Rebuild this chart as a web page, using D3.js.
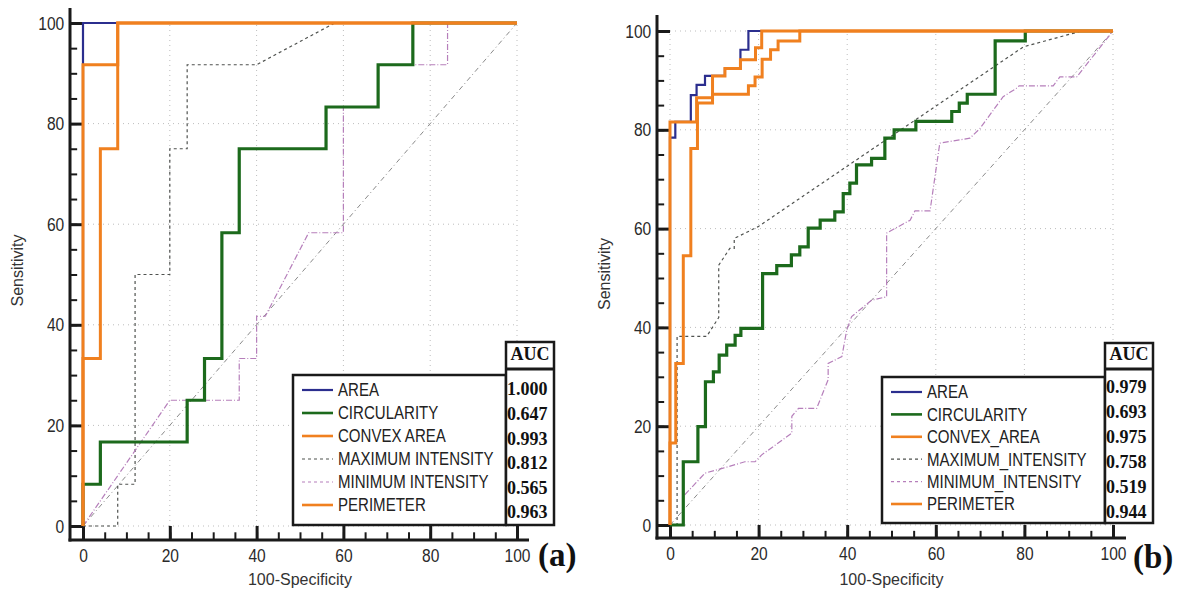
<!DOCTYPE html>
<html>
<head>
<meta charset="utf-8">
<script src="https://cdn.jsdelivr.net/npm/d3@7"></script>
<style>
  body { margin: 0; background: #fff; }
  svg { display: block; }
</style>
</head>
<body>
<svg id="chart" width="1190" height="594"></svg>
<script>
// ---- data ----
const namesA = ["AREA", "CIRCULARITY", "CONVEX AREA", "MAXIMUM INTENSITY", "MINIMUM INTENSITY", "PERIMETER"]
const namesB = ["AREA", "CIRCULARITY", "CONVEX_AREA", "MAXIMUM_INTENSITY", "MINIMUM_INTENSITY", "PERIMETER"]
const aucA = ["1.000", "0.647", "0.993", "0.812", "0.565", "0.963"]
const aucB = ["0.979", "0.693", "0.975", "0.758", "0.519", "0.944"]
const tickValues = [0, 20, 40, 60, 80, 100]
const minorTickValues = [0, 5, 10, 15, 20, 25, 30, 35, 40, 45, 50, 55, 60, 65, 70, 75, 80, 85, 90, 95, 100]
const chance = [[0, 0], [100, 100]]

// step curves: [100-specificity, sensitivity] breakpoints (drawn as step-after)
const areaA = [[0, 0], [0, 100], [100, 100]]
const circA = [[0, 0], [0, 8.3], [4, 16.7], [24, 25], [28, 33.3], [32, 58.3], [36, 75], [56, 83.3], [68, 91.7], [76, 100], [100, 100]]
const convexA = [[0, 0], [0, 91.7], [8, 100], [100, 100]]
const perimA = [[0, 0], [0, 33.3], [4, 75], [8, 100], [100, 100]]
// poly curves (drawn point to point)
const maxA = [[0, 0], [8, 0], [8, 8.3], [12, 8.3], [12, 50], [20, 50], [20, 75], [24, 75], [24, 91.7], [40, 91.7], [58, 100], [100, 100]]
const minA = [[0, 0], [20, 25], [36, 25], [36, 33.3], [40, 33.3], [40, 41.7], [42, 41.7], [52, 58.3], [60, 58.3], [60, 83.3], [68, 83.3], [68, 91.7], [84, 91.7], [84, 100], [100, 100]]

const areaB = [[0, 0], [0, 78.4], [1.2, 81.6], [4.7, 87], [6, 89.1], [7.9, 90.9], [12.4, 92.4], [15.9, 96.2], [17.7, 100], [100, 100]]
const circB = [[0, 0], [3, 12.8], [6.3, 19.9], [8, 29], [9.8, 31], [11.1, 34.4], [12.8, 36.4], [14.7, 38.4], [16, 39.8], [20.9, 50.9],
  [24.1, 52.5], [27.4, 54.7], [29.3, 56.3], [31.2, 60.1], [33.9, 61.7], [37.2, 63.4], [39.1, 67.1], [40.6, 69.2], [42.1, 72.9],
  [45.5, 74.2], [48.5, 78.3], [50.6, 80], [55.5, 81.7], [63.6, 83.7], [65.3, 85.4], [67.1, 87.2], [73.4, 98], [80.2, 100], [100, 100]]
const convexB = [[0, 0], [0, 81.6], [6, 86.5], [9.6, 90.9], [12.4, 92.4], [15.9, 94.2], [19.3, 96.6], [20.7, 100], [100, 100]]
const perimB = [[0, 0], [0, 16.6], [1.3, 32.7], [3, 54.5], [4.7, 76.2], [6.2, 85.4], [9.6, 87.2], [17.7, 88.9], [19.2, 90.7],
  [20.8, 94.3], [22.7, 96.2], [24.4, 98], [29.3, 100], [100, 100]]
const maxB = [[0, 0], [1.6, 0], [1.6, 38.2], [8.3, 38.2], [11, 42], [11, 52.6], [13.5, 56], [14.5, 56], [14.5, 58], [19.9, 60.4],
  [49.3, 78.3], [79.8, 96.8], [92.5, 99.9], [100, 100]]
const minB = [[0, 0], [3, 0], [3, 5.8], [7.9, 10.5], [12, 11.5], [16.9, 12.8], [19.2, 12.8], [20.7, 14.2], [27.5, 18.6], [27.5, 22],
  [29, 23.6], [33.1, 23.6], [35.7, 29.4], [35.7, 32.7], [38.8, 34.1], [39.9, 39.5], [41, 42.2], [45.5, 45.5], [48.9, 46.2],
  [48.9, 59.1], [54.2, 61.7], [55.3, 63.6], [58.7, 63.6], [60.9, 77.3], [67.7, 78.3], [70, 80.3], [73, 84], [75.2, 86.7],
  [78.2, 88.4], [78.8, 88.9], [86.5, 88.9], [88, 90.7], [91.8, 90.7], [100, 100]]

// ---- styles (same order as names) ----
const styles = [
  {color: "#2b2e8e", width: 2.2, dash: null},
  {color: "#1c6a1c", width: 3.2, dash: null},
  {color: "#f0801f", width: 3, dash: null},
  {color: "#4f524f", width: 1.2, dash: "3,3"},
  {color: "#b67fbb", width: 1.2, dash: "6,2,1,2"},
  {color: "#f0801f", width: 3, dash: null}
]
const drawOrder = [3, 4, 1, 0, 5, 2]
const sansFont = "'Liberation Sans', Arial, sans-serif"
const serifFont = "'Liberation Serif', 'Times New Roman', serif"

const svg = d3.select("#chart")

function drawPanel(p) {
  let x = d3.scaleLinear().domain([0, 100]).range(p.xRange),
      y = d3.scaleLinear().domain([0, 100]).range(p.yRange)
  const g = svg.append("g")

  // dotted grid
  g.append("g").selectAll("line").data(tickValues).join("line")
    .attr("x1", d => x(d)).attr("x2", d => x(d))
    .attr("y1", y(0)).attr("y2", y(100))
    .attr("stroke", "#bdbdbd").attr("stroke-dasharray", "1,4")
  g.append("g").selectAll("line").data(tickValues).join("line")
    .attr("y1", d => y(d)).attr("y2", d => y(d))
    .attr("x1", x(0)).attr("x2", x(100))
    .attr("stroke", "#bdbdbd").attr("stroke-dasharray", "1,4")

  // axes (ticks point into the plot)
  const inY = x(0) - p.axisX, inX = p.axisY - y(0)
  const yAxis = g.append("g").attr("transform", `translate(${p.axisX},0)`)
    .call(d3.axisLeft(y).tickValues(tickValues).tickSize(-inY).tickPadding(7))
  yAxis.append("g")
    .call(d3.axisLeft(y).tickValues(minorTickValues).tickSize(-inY * 0.55).tickFormat(""))
  const xAxis = g.append("g").attr("transform", `translate(0,${p.axisY})`)
    .call(d3.axisBottom(x).tickValues(tickValues).tickSize(-inX).tickPadding(9))
  xAxis.append("g")
    .call(d3.axisBottom(x).tickValues(minorTickValues).tickSize(-inX * 0.55).tickFormat(""))
  g.selectAll(".domain").remove()
  g.selectAll(".tick line").attr("stroke", "#1a1a1a").attr("stroke-width", 2)
  yAxis.selectAll(":scope > .tick line").attr("stroke-width", 3)
  xAxis.selectAll(":scope > .tick line").attr("stroke-width", 3)
  // labels in the picture are tall and narrow
  g.selectAll(".tick text").attr("font-family", sansFont).attr("font-size", 19).attr("fill", "#2a2a2a")
    .attr("transform", "scale(0.82,1)")
  g.append("line").attr("x1", p.axisX).attr("x2", p.axisX).attr("y1", p.yTop).attr("y2", p.axisY + 1.5)
    .attr("stroke", "#1a1a1a").attr("stroke-width", 3)
  g.append("line").attr("x1", p.axisX - 1.5).attr("x2", p.xEnd).attr("y1", p.axisY).attr("y2", p.axisY)
    .attr("stroke", "#1a1a1a").attr("stroke-width", 3)

  // axis titles
  g.append("text")
    .attr("transform", `translate(${p.yTitleX},${(y(0) + y(100)) / 2 - 4}) rotate(-90)`)
    .attr("text-anchor", "middle").attr("font-family", sansFont).attr("font-size", 16).attr("fill", "#333")
    .text("Sensitivity")
  g.append("text")
    .attr("x", (x(0) + x(100)) / 2).attr("y", 585)
    .attr("text-anchor", "middle").attr("font-family", sansFont).attr("font-size", 16).attr("fill", "#333")
    .text("100-Specificity")

  // curves
  const stepLine = d3.line().x(d => x(d[0])).y(d => y(d[1])).curve(d3.curveStepAfter)
  const polyLine = d3.line().x(d => x(d[0])).y(d => y(d[1]))
  g.append("path").attr("d", polyLine(chance)).attr("fill", "none")
    .attr("stroke", "#8a8a8a").attr("stroke-width", 1).attr("stroke-dasharray", "5,3,1,3")
  drawOrder.forEach(i => {
    const s = styles[i]
    const isPoly = i === 3 || i === 4
    g.append("path")
      .attr("d", (isPoly ? polyLine : stepLine)(p.curves[i]))
      .attr("fill", "none")
      .attr("stroke", s.color)
      .attr("stroke-width", s.width)
      .attr("stroke-dasharray", s.dash)
      .attr("stroke-linejoin", "miter")
  })

  // legend
  const L = p.legend
  const lg = g.append("g")
  lg.append("rect").attr("x", L.x).attr("y", L.y).attr("width", L.w).attr("height", L.h)
    .attr("fill", "#fff").attr("stroke", "#1a1a1a").attr("stroke-width", 2.5)
  const rows = lg.selectAll("g.row").data(p.names).join("g").attr("class", "row")
    .attr("transform", (d, i) => `translate(${L.x},${L.row0 + i * L.step})`)
  rows.append("line").attr("x1", 9).attr("x2", 40).attr("y1", 0).attr("y2", 0)
    .attr("stroke", (d, i) => styles[i].color)
    .attr("stroke-width", (d, i) => Math.min(styles[i].width, 2.6))
    .attr("stroke-dasharray", (d, i) => styles[i].dash ? "3,3" : null)
  rows.append("text").attr("transform", "translate(45,0) scale(0.86,1)").attr("dy", "0.36em")
    .attr("font-family", sansFont).attr("font-size", 17.5).attr("fill", "#222")
    .text(d => d)

  // AUC table
  const A = p.aucBox
  lg.append("rect").attr("x", A.x).attr("y", A.y).attr("width", A.w).attr("height", L.y + L.h - A.y)
    .attr("fill", "#fff").attr("stroke", "#1a1a1a").attr("stroke-width", 2.5)
  lg.append("line").attr("x1", A.x).attr("x2", A.x + A.w).attr("y1", A.sep).attr("y2", A.sep)
    .attr("stroke", "#1a1a1a").attr("stroke-width", 3)
  lg.append("text").attr("x", A.x + A.w / 2).attr("y", A.sep - 9)
    .attr("text-anchor", "middle").attr("font-family", serifFont).attr("font-weight", "bold")
    .attr("font-size", 18).attr("fill", "#111").text("AUC")
  lg.selectAll("text.auc").data(p.auc).join("text").attr("class", "auc")
    .attr("x", A.x + 1).attr("y", (d, i) => A.row0 + i * A.step).attr("dy", "0.35em")
    .attr("font-family", serifFont).attr("font-weight", "bold").attr("font-size", 18).attr("fill", "#111")
    .text(d => d)

  // panel letter
  g.append("text").attr("x", p.tag.x).attr("y", p.tag.y)
    .attr("font-family", serifFont).attr("font-weight", "bold").attr("font-size", 33).attr("fill", "#111")
    .text(p.tag.text)
}

drawPanel({
  xRange: [83, 517], yRange: [526, 23],
  axisX: 70, axisY: 540, yTop: 8, xEnd: 529, yTitleX: 23,
  names: namesA, auc: aucA,
  curves: [areaA, circA, convexA, maxA, minA, perimA],
  legend: {x: 293, y: 375, w: 213, h: 150, row0: 390, step: 23},
  aucBox: {x: 506, y: 342, w: 48, sep: 369, row0: 389, step: 24.6},
  tag: {x: 538, y: 566, text: "(a)"}
})

drawPanel({
  xRange: [670, 1113], yRange: [525, 31],
  axisX: 657, axisY: 538, yTop: 15, xEnd: 1126, yTitleX: 610,
  names: namesB, auc: aucB,
  curves: [areaB, circB, convexB, maxB, minB, perimB],
  legend: {x: 882, y: 377, w: 223, h: 146, row0: 392, step: 22.4},
  aucBox: {x: 1105, y: 343, w: 48, sep: 369, row0: 387, step: 25},
  tag: {x: 1133, y: 568, text: "(b)"}
})
</script>
</body>
</html>
